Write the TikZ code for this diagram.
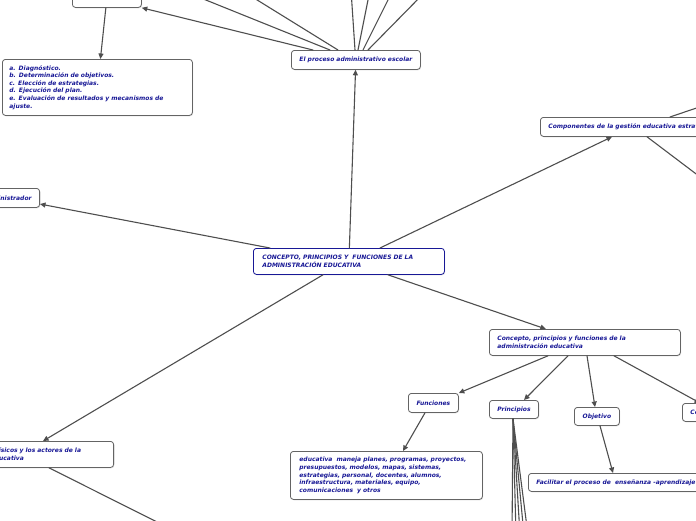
\documentclass[tikz,border=0pt]{standalone}
\usepackage{fontspec}
\setmainfont{DejaVu Sans}
\usepackage{xcolor}
\usetikzlibrary{arrows.meta,shadows}

\definecolor{mapblue}{RGB}{24,24,150}
\definecolor{mapline}{RGB}{78,78,78}
\definecolor{mapedge}{RGB}{100,100,100}

\tikzset{
  topic/.style={draw=mapedge, line width=0.8pt, rounded corners=3pt, fill=white,
    drop shadow={opacity=0.25, shadow xshift=0.7pt, shadow yshift=-0.9pt},
    text=mapblue, font=\fontsize{6}{7.6}\selectfont\bfseries\itshape,
    inner xsep=8pt, inner ysep=2pt, minimum height=19pt, anchor=north west},
  link/.style={draw=mapline, line width=1.1pt, -{Triangle[length=5.5pt,width=5pt]}},
}

\begin{document}
\begin{tikzpicture}[x=1pt, y=-1pt, line cap=round, line join=round]

% ---------------------------------------------------------
% Frame
% ---------------------------------------------------------
\useasboundingbox (0,0) rectangle (696,520);
\clip (0,0) rectangle (696,520);

% ---------------------------------------------------------
% Off-frame ends
% ---------------------------------------------------------
\coordinate (up1) at (181,-10);
\coordinate (up2) at (241,-10);
\coordinate (up3) at (351,-10);
\coordinate (up4) at (370,-10);
\coordinate (up5) at (393,-10);
\coordinate (up6) at (427,-10);
\coordinate (rt1) at (720,100);
\coordinate (rt2) at (720,192);
\coordinate (dn1) at (512,535);
\coordinate (dn2) at (516,535);
\coordinate (dn3) at (520,535);
\coordinate (dn4) at (524,535);
\coordinate (dn5) at (528,535);
\coordinate (bl1) at (175,531);

% ---------------------------------------------------------
% Topics
% ---------------------------------------------------------
\node[topic, minimum width=69pt] (plan) at (72,-12) {};
\node[topic, text width=176pt, inner xsep=7pt, minimum height=56pt, align=left] (etapas) at (2,59)
  {a. Diagnóstico.\\b. Determinación de objetivos.\\c. Elección de estrategias.\\d. Ejecución del plan.\\e. Evaluación de resultados y mecanismos de\\ajuste.};
\node[topic, minimum width=129pt] (proceso) at (291,50) {El proceso administrativo escolar};
\node[topic, anchor=north east] (admin) at (40,188) {administrador};
\node[topic] (compon) at (540,117) {Componentes de la gestión educativa estratégica};
\node[topic, draw=mapblue, text width=173pt, inner xsep=9pt, minimum height=26pt, align=left] (central) at (253,248)
  {CONCEPTO, PRINCIPIOS Y\ \ FUNCIONES DE LA\\ADMINISTRACIÓN EDUCATIVA};
\node[topic, text width=175pt, inner xsep=8pt, minimum height=26pt, align=left] (concepto) at (489,329)
  {Concepto, principios y funciones de la\\administración educativa};
\node[topic, minimum width=50pt] (funciones) at (408,393) {Funciones};
\node[topic, minimum width=49pt, minimum height=18pt] (principios) at (489,400) {Principios};
\node[topic, minimum width=45pt, minimum height=18pt] (objetivo) at (574,407) {Objetivo};
\node[topic, minimum height=18pt] (concepto2) at (682,403) {Concepto};
\node[topic, minimum height=18pt] (facilitar) at (528,473) {Facilitar el proceso de\ \ enseñanza -aprendizaje};
\node[topic, text width=174pt, inner xsep=9pt, minimum height=48pt, align=left] (maneja) at (290,451)
  {educativa\ \ maneja planes, programas, proyectos,\\presupuestos, modelos, mapas, sistemas,\\estrategias, personal, docentes, alumnos,\\infraestructura, materiales, equipo,\\comunicaciones\ \ y otros};
\node[topic, anchor=north east, text width=153pt, inner xsep=9pt, minimum height=26pt, align=left] (actores) at (114,441)
  {Los recursos físicos y los actores de la\\comunidad educativa};

% ---------------------------------------------------------
% Connectors
% ---------------------------------------------------------
\draw[link] (central) -- (proceso);
\draw[link] ([xshift=17pt]central.north west) -- (admin);
\draw[link] ([xshift=127pt]central.north west) -- ([xshift=72pt]compon.south west);
\draw[link] (central) -- (concepto);
\draw[link] ([xshift=70pt]central.south west) -- ([xshift=-71pt]actores.north east);

\draw[link] ([xshift=22pt]proceso.north west) -- (plan.south east);
\draw[link] (plan) -- (etapas);
\foreach \s/\t in {39/up1,47/up2,64/up3,67/up4,72/up5,77/up6}
  \draw[link] ([xshift=\s pt]proceso.north west) -- (\t);

\draw[link] ([xshift=130pt]compon.north west) -- (rt1);
\draw[link] ([xshift=107pt]compon.south west) -- (rt2);

\draw[link] ([xshift=59pt]concepto.south west) -- (funciones.north east);
\draw[link] ([xshift=79pt]concepto.south west) -- ([xshift=35pt]principios.north west);
\draw[link] ([xshift=98pt]concepto.south west) -- ([xshift=21pt]objetivo.north west);
\draw[link] ([xshift=125pt]concepto.south west) -- ([xshift=18pt]concepto2.north west);
\draw[link] ([xshift=17pt]funciones.south west) -- ([xshift=113pt]maneja.north west);
\draw[link] ([xshift=26pt]objetivo.south west) -- ([xshift=85pt]facilitar.north west);
\foreach \t in {dn1,dn2,dn3,dn4,dn5}
  \draw[link] ([xshift=24pt]principios.south west) -- (\t);
\draw[link] ([xshift=-65pt]actores.south east) -- (bl1);

\end{tikzpicture}
\end{document}
